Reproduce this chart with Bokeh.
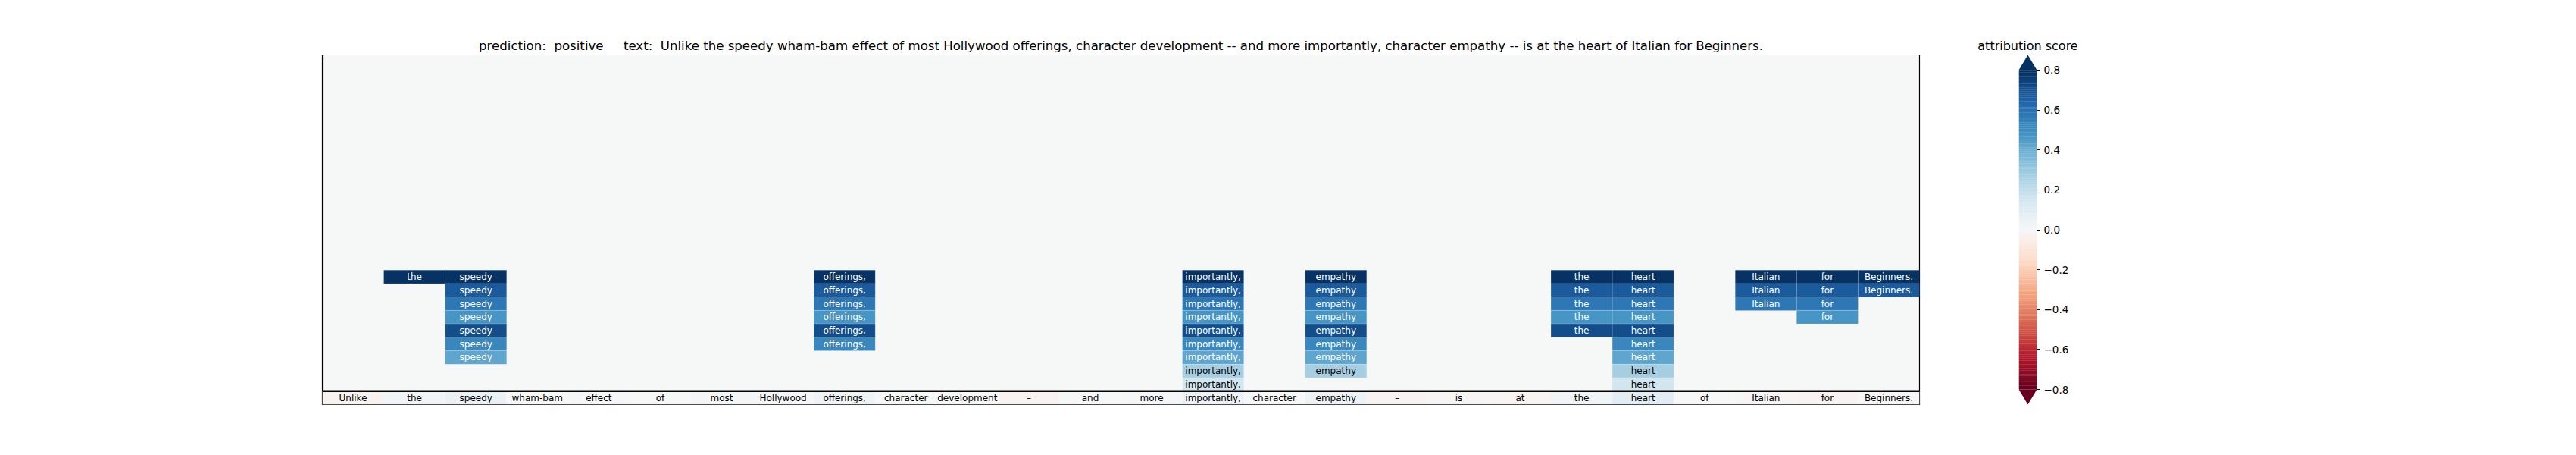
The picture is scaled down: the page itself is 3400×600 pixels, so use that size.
import numpy as np
from bokeh.plotting import figure
from bokeh.layouts import row
from bokeh.models import ColumnDataSource, Range1d, Span, FixedTicker, LinearColorMapper
from bokeh.transform import transform
from bokeh.core.properties import value
from bokeh.embed import file_html
from bokeh.resources import INLINE

# ---------------- data ----------------
tokens = ["Unlike", "the", "speedy", "wham-bam", "effect", "of", "most", "Hollywood",
          "offerings,", "character", "development", "–", "and", "more", "importantly,",
          "character", "empathy", "–", "is", "at", "the", "heart", "of", "Italian",
          "for", "Beginners."]
token_scores = [-0.03, 0.03, 0.05, 0.0, 0.01, 0.0, 0.015, 0.01,
                0.035, 0.0, 0.0, -0.02, 0.0, 0.01, 0.045,
                0.0, 0.045, -0.02, -0.01, -0.015, 0.03, 0.09, 0.0, -0.012,
                -0.02, -0.005]

# stacked cells above the token row: column index -> scores (top row downwards)
stack_columns = [1, 2, 8, 14, 16, 20, 21, 23, 24, 25]
stack_scores = [
    [0.79],
    [0.79, 0.67, 0.58, 0.47, 0.71, 0.52, 0.42],
    [0.79, 0.67, 0.58, 0.47, 0.71, 0.52],
    [0.79, 0.67, 0.58, 0.47, 0.71, 0.52, 0.42, 0.27, 0.155],
    [0.79, 0.67, 0.58, 0.47, 0.71, 0.52, 0.42, 0.27],
    [0.79, 0.67, 0.58, 0.47, 0.71],
    [0.79, 0.67, 0.58, 0.47, 0.71, 0.52, 0.42, 0.27, 0.155],
    [0.79, 0.67, 0.58],
    [0.79, 0.67, 0.58, 0.47],
    [0.79, 0.67],
]
top_row = 9

NB = "\u00a0"
title_text = ("prediction:" + NB + " positive" + NB * 4 + " text:" + NB + " Unlike the speedy "
              "wham-bam effect of most Hollywood offerings, character development -- and more "
              "importantly, character empathy -- is at the heart of Italian for Beginners.")
cbar_ticks = [-0.8, -0.6, -0.4, -0.2, 0.0, 0.2, 0.4, 0.6, 0.8]
vmin, vmax = -0.8, 0.8

# ---------------- colormap (RdBu_r) ----------------
anchors = ["#67001f", "#b2182b", "#d6604d", "#f4a582", "#fddbc7", "#f7f7f7",
           "#d1e5f0", "#92c5de", "#4393c3", "#2166ac", "#053061"]
rgb = np.array([[int(h[i:i + 2], 16) for i in (1, 3, 5)] for h in anchors], float)
pos = np.linspace(0, 1, len(anchors))
tt = np.linspace(0, 1, 256)
palette = ["#%02x%02x%02x" % tuple(int(round(np.interp(t, pos, rgb[:, c]))) for c in range(3))
           for t in tt]
mapper = LinearColorMapper(palette=palette, low=vmin, high=vmax)

FONT = "DejaVu Sans"

# ---------------- main heatmap ----------------
n = len(tokens)
xs, ys, vals, labels, tcolors = [], [], [], [], []
for i, (tok, s) in enumerate(zip(tokens, token_scores)):
    xs.append(i + 0.5); ys.append(0.5); vals.append(s); labels.append(tok); tcolors.append("black")
for col, scores in zip(stack_columns, stack_scores):
    for k, s in enumerate(scores):
        xs.append(col + 0.5); ys.append(top_row - k + 0.5); vals.append(s)
        labels.append(tokens[col]); tcolors.append("white" if s > 0.35 else "black")
src = ColumnDataSource(dict(x=xs, y=ys, v=vals, t=labels, tc=tcolors))

p = figure(width=2600, height=592, output_backend="svg", toolbar_location=None,
           x_range=Range1d(0, n), y_range=Range1d(0, n),
           x_axis_location=None, y_axis_location=None,
           min_border_left=425, min_border_right=67, min_border_top=72, min_border_bottom=59)
p.grid.visible = False
p.background_fill_color = palette[128]
p.border_fill_color = "white"
p.outline_line_color = "black"
p.outline_line_width = 1.2
p.title.text = title_text
p.title.align = "center"
p.title.text_font = FONT
p.title.text_font_size = "16.6px"
p.title.text_font_style = "normal"
p.title.text_color = "black"
p.title.standoff = 6

p.rect("x", "y", width=1, height=1, source=src,
       fill_color=transform("v", mapper), line_color="white", line_alpha=0.25, line_width=0.6)
p.text("x", "y", text="t", source=src, text_color="tc", text_align="center",
       text_baseline="middle", text_font=value(FONT), text_font_size="12px")
p.add_layout(Span(location=1, dimension="width", line_color="black", line_width=2.5))

# ---------------- colorbar ----------------
ext = 0.076
cb = figure(width=200, height=592, output_backend="svg", toolbar_location=None,
            x_range=Range1d(0, 1), y_range=Range1d(vmin - ext, vmax + ext),
            x_axis_location=None, y_axis_location="right",
            min_border_left=64, min_border_right=112, min_border_top=72, min_border_bottom=59)
cb.grid.visible = False
cb.outline_line_color = None
cb.background_fill_color = "white"
cb.title.text = "attribution score"
cb.title.align = "center"
cb.title.text_font = FONT
cb.title.text_font_size = "16px"
cb.title.text_font_style = "normal"
cb.title.text_color = "black"
cb.title.standoff = 6

edges = np.linspace(vmin, vmax, 257)
cb.quad(left=0, right=1, bottom=edges[:-1], top=edges[1:] + 0.001,
        fill_color=palette, line_color=None)
cb.patch([0, 1, 0.5], [vmax, vmax, vmax + ext], fill_color=palette[-1], line_color=None)
cb.patch([0, 1, 0.5], [vmin, vmin, vmin - ext], fill_color=palette[0], line_color=None)

ax = cb.yaxis[0]
ax.ticker = FixedTicker(ticks=cbar_ticks)
ax.major_label_overrides = {t: ("%.1f" % t).replace("-", "−") for t in cbar_ticks}
ax.axis_line_color = None
ax.major_tick_in = 0
ax.major_tick_out = 4
ax.minor_tick_line_color = None
ax.major_tick_line_color = "black"
ax.major_label_text_font = FONT
ax.major_label_text_font_size = "13.5px"
ax.major_label_text_color = "black"
ax.major_label_standoff = 5

layout = row(p, cb)
open("out.html", "w").write(file_html(layout, INLINE))
